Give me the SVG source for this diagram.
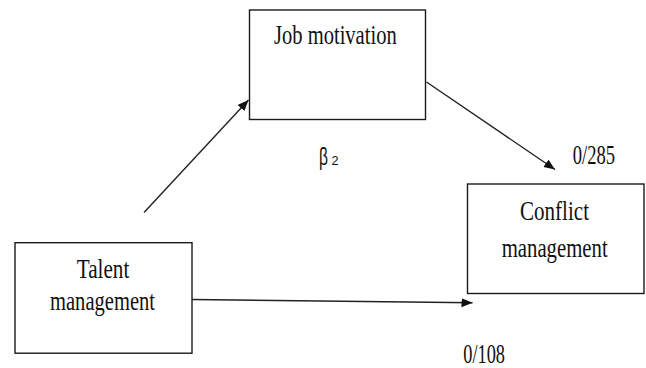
<svg xmlns="http://www.w3.org/2000/svg" width="646" height="368" viewBox="0 0 646 368">
<style>
.box{fill:#fff;stroke:#1a1a1a;stroke-width:1.4}
.lbl{font-family:"Liberation Serif","Times New Roman",serif;font-size:27px;fill:#111}
.num{font-family:"Liberation Serif","Times New Roman",serif;font-size:27px;fill:#111}
.conn{fill:none;stroke:#222;stroke-width:1.4}
</style>
<defs>
<marker id="ah" markerUnits="userSpaceOnUse" markerWidth="12" markerHeight="10" refX="11" refY="4.5" orient="auto">
<path d="M0,0 L11,4.5 L0,9 z" fill="#111"/>
</marker>
</defs>
<rect width="646" height="368" fill="#fff"/>
<g id="job-motivation">
<rect class="box" x="249.5" y="10" width="176" height="109.5"/>
<text class="lbl" x="274" y="43.5" textLength="122.7" lengthAdjust="spacingAndGlyphs">Job motivation</text>
</g>
<g id="conflict-management">
<rect class="box" x="467.5" y="184" width="176.5" height="109.5"/>
<text class="lbl" x="520" y="220" textLength="69" lengthAdjust="spacingAndGlyphs">Conflict</text>
<text class="lbl" x="501.7" y="257" textLength="106" lengthAdjust="spacingAndGlyphs">management</text>
</g>
<g id="talent-management">
<rect class="box" x="15" y="242.7" width="177" height="110.5"/>
<text class="lbl" x="76.7" y="278" textLength="52.6" lengthAdjust="spacingAndGlyphs">Talent</text>
<text class="lbl" x="50" y="310" textLength="105" lengthAdjust="spacingAndGlyphs">management</text>
</g>
<g id="connectors">
<line class="conn" x1="144" y1="212.5" x2="248.5" y2="100" marker-end="url(#ah)"/>
<line class="conn" x1="426.5" y1="82" x2="555" y2="169.5" marker-end="url(#ah)"/>
<line class="conn" x1="192" y1="299.5" x2="472.5" y2="302.8" marker-end="url(#ah)"/>
</g>
<g id="labels">
<text class="num" x="572.7" y="164" textLength="42.3" lengthAdjust="spacingAndGlyphs">0/285</text>
<text class="num" x="463.3" y="363" textLength="41.7" lengthAdjust="spacingAndGlyphs">0/108</text>
<text x="319" y="165" font-family="Liberation Sans, Arial, sans-serif" font-size="23" fill="#111" textLength="9" lengthAdjust="spacingAndGlyphs">β</text>
<text x="331.5" y="165" font-family="Liberation Sans, Arial, sans-serif" font-size="13" fill="#111" textLength="7" lengthAdjust="spacingAndGlyphs">2</text>
</g>
</svg>
